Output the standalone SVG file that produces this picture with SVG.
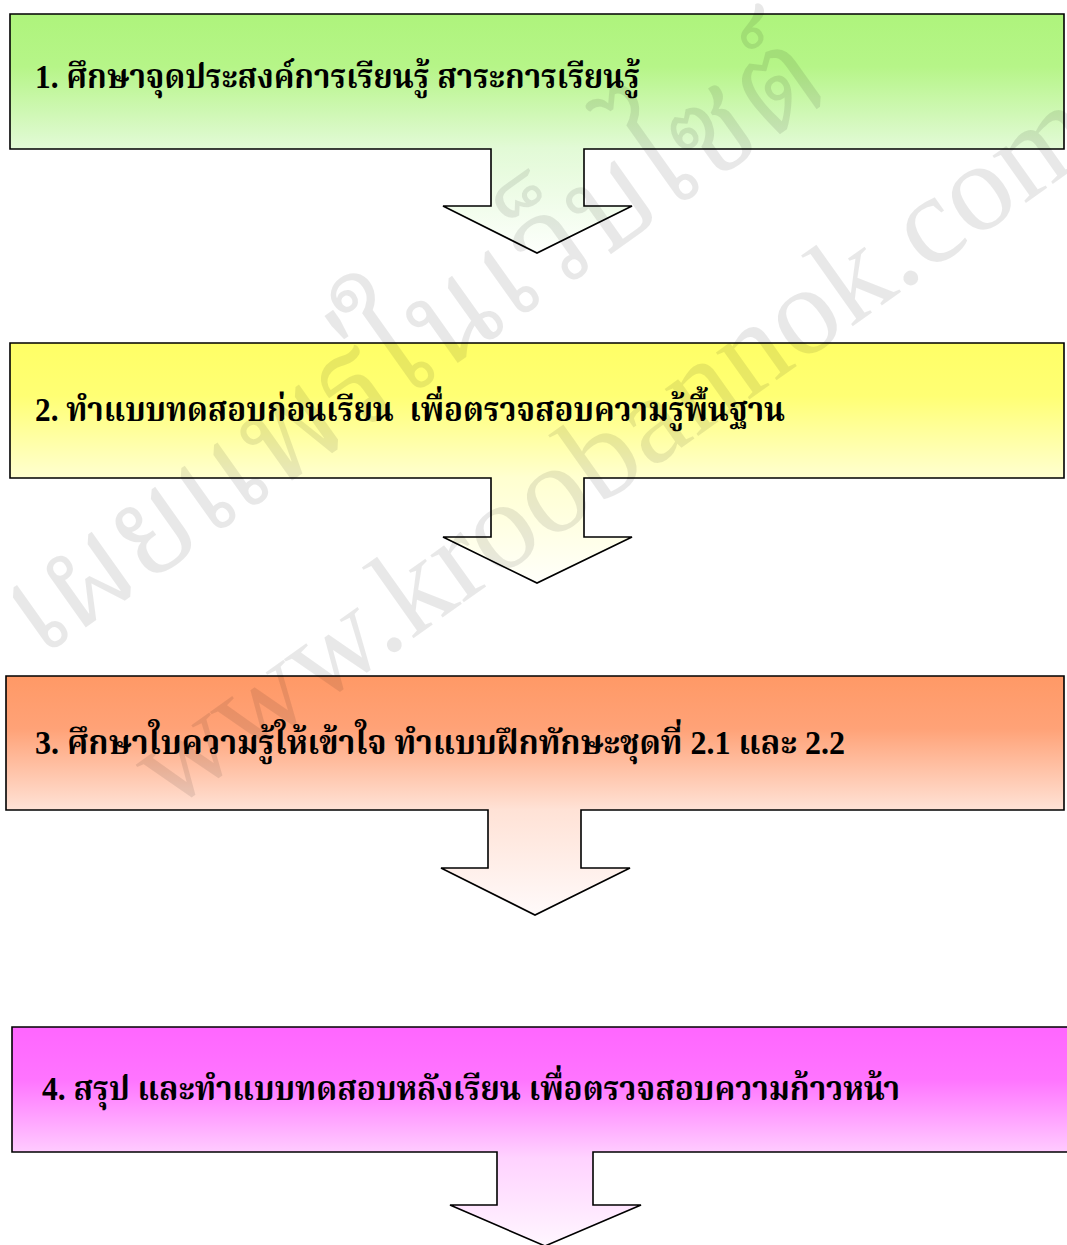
<svg xmlns="http://www.w3.org/2000/svg" width="1067" height="1245" viewBox="0 0 1067 1245">
<style>
.box{stroke:#000;stroke-width:1.6;stroke-linejoin:miter}
.lbl{font-family:"Liberation Serif","Noto Serif Thai","Noto Sans Thai",serif;font-weight:bold;font-size:33px;fill:#000;white-space:pre}
.wm{font-family:"Liberation Serif","Noto Serif Thai","Noto Sans Thai",serif;fill:#000;fill-opacity:0.09}
</style>
<defs>
<linearGradient id="g1" gradientUnits="userSpaceOnUse" x1="0" y1="14" x2="0" y2="253">
<stop offset="0" stop-color="#aef47c"/><stop offset="0.22" stop-color="#b6f588"/><stop offset="0.56" stop-color="#e2fad6"/><stop offset="1" stop-color="#fdfffc"/>
</linearGradient>
<linearGradient id="g2" gradientUnits="userSpaceOnUse" x1="0" y1="343" x2="0" y2="583">
<stop offset="0" stop-color="#ffff66"/><stop offset="0.22" stop-color="#ffff74"/><stop offset="0.56" stop-color="#ffffd0"/><stop offset="1" stop-color="#fffffa"/>
</linearGradient>
<linearGradient id="g3" gradientUnits="userSpaceOnUse" x1="0" y1="676" x2="0" y2="915">
<stop offset="0" stop-color="#ff9966"/><stop offset="0.22" stop-color="#ffa277"/><stop offset="0.56" stop-color="#ffe2d6"/><stop offset="1" stop-color="#fffafa"/>
</linearGradient>
<linearGradient id="g4" gradientUnits="userSpaceOnUse" x1="0" y1="1027" x2="0" y2="1245">
<stop offset="0" stop-color="#ff66ff"/><stop offset="0.24" stop-color="#ff74ff"/><stop offset="0.6" stop-color="#ffd2ff"/><stop offset="1" stop-color="#fff6ff"/>
</linearGradient>
</defs>
<g id="node1">
<path class="box" fill="url(#g1)" d="M10,14 H1064 V149 H584 V206 H632 L537,253 L443,206 H491 V149 H10 Z"/>
</g>
<g id="node2">
<path class="box" fill="url(#g2)" d="M10,343 H1064 V478 H584 V537 H632 L537,583 L443,537 H491 V478 H10 Z"/>
</g>
<g id="node3">
<path class="box" fill="url(#g3)" d="M6,676 H1064 V810 H581 V868 H630 L535,915 L441,868 H488 V810 H6 Z"/>
</g>
<g id="node4">
<path class="box" fill="url(#g4)" d="M12,1027 H1075 V1152 H593 V1205 H641 L545,1246 L450,1205 H497 V1152 H12 Z"/>
</g>
<g id="connectors"></g>
<g id="watermark">
<text class="wm" x="40" y="660" font-size="135" textLength="975" lengthAdjust="spacingAndGlyphs" transform="rotate(-35.4 40 660)">เผยแพร่ในเว็บไซต์</text>
<text class="wm" x="169" y="812" font-size="126" transform="rotate(-35.4 169 812)">www.kroobannok.com</text>
</g>
<g id="labels">
<text class="lbl" x="35" y="88" textLength="605" lengthAdjust="spacingAndGlyphs">1. ศึกษาจุดประสงค์การเรียนรู้ สาระการเรียนรู้</text>
<text class="lbl" x="35" y="421" textLength="750" lengthAdjust="spacingAndGlyphs">2. ทำแบบทดสอบก่อนเรียน  เพื่อตรวจสอบความรู้พื้นฐาน</text>
<text class="lbl" x="35" y="754" textLength="810" lengthAdjust="spacingAndGlyphs">3. ศึกษาใบความรู้ให้เข้าใจ ทำแบบฝึกทักษะชุดที่ 2.1 และ 2.2</text>
<text class="lbl" x="42" y="1100" textLength="858" lengthAdjust="spacingAndGlyphs">4. สรุป และทำแบบทดสอบหลังเรียน เพื่อตรวจสอบความก้าวหน้า</text>
</g>
</svg>
